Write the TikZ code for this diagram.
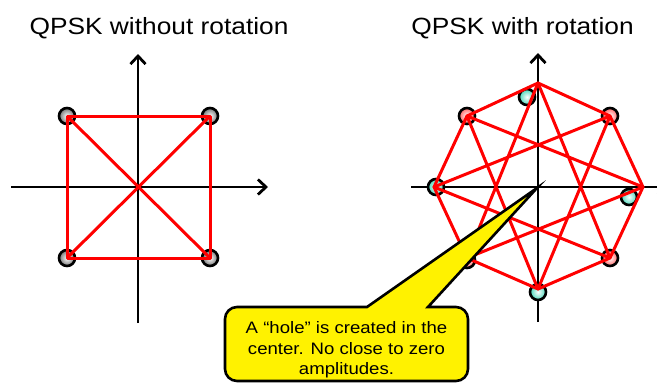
\documentclass[tikz,border=0pt]{standalone}
\usepackage{fontspec}
\setmainfont{Liberation Sans}[FakeStretch=1.12]
\usetikzlibrary{arrows.meta}

\definecolor{aqua}{RGB}{70,215,185}
\tikzset{
  axis/.style={line width=2.8pt, -{Straight Barb[length=8pt,width=15pt]}},
  sig/.style={draw=red, line width=3pt, line join=round},
  pt/.style={circle, draw=black, line width=2.6pt, minimum size=16pt, inner sep=0pt},
  grey pt/.style={pt, inner color=white, outer color=black!55},
  pink pt/.style={pt, inner color=white, outer color=red!60},
  cyan pt/.style={pt, inner color=white, outer color=aqua},
  callout/.style={fill=yellow, draw=black, line width=2.6pt, line join=miter},
}

\begin{document}
\begin{tikzpicture}[x=1pt,y=-1pt]
  \useasboundingbox (0,0) rectangle (657,383);

  % titles
  \node[anchor=base, font=\fontsize{23.5}{28}\selectfont] (ttlA) at (159,34) {QPSK without rotation};
  \node[anchor=base, font=\fontsize{23.5}{28}\selectfont] (ttlB) at (522.5,34) {QPSK with rotation};

  % axes, left
  \coordinate (lxs) at (11,187);   \coordinate (lxe) at (268,187);
  \coordinate (lys) at (138,323);  \coordinate (lye) at (138,54);
  \draw[axis] (lxs) -- (lxe);
  \draw[axis] (lys) -- (lye);
  % axes, right
  \coordinate (rxs) at (411,187);  \coordinate (rxe) at (668,187);
  \coordinate (rys) at (538,322);  \coordinate (rye) at (538,53);
  \draw[axis] (rxs) -- (rxe);
  \draw[axis] (rys) -- (rye);

  % QPSK points, left
  \node[grey pt] (qa) at (67,116) {};
  \node[grey pt] (qb) at (210,116) {};
  \node[grey pt] (qc) at (210,258) {};
  \node[grey pt] (qd) at (67,258) {};
  \draw[sig] (qa.center) -- (qb.center) -- (qc.center) -- (qd.center) -- cycle;
  \draw[sig] (qa.center) -- (qc.center);
  \draw[sig] (qb.center) -- (qd.center);

  % rotated points, right
  \node[pink pt] (pa) at (467,116) {};
  \node[pink pt] (pb) at (610,116) {};
  \node[pink pt] (pc) at (610,258) {};
  \node[pink pt] (pd) at (467,260) {};
  \node[cyan pt] (ra) at (527,97) {};
  \node[cyan pt] (rb) at (629,197) {};
  \node[cyan pt] (rc) at (538,292) {};
  \node[cyan pt] (rd) at (436,187) {};

  % octagon corners
  \coordinate (o0) at (538,83);
  \coordinate (o1) at (610,116);
  \coordinate (o2) at (643,187);
  \coordinate (o3) at (610,258);
  \coordinate (o4) at (538,289);
  \coordinate (o5) at (467,258);
  \coordinate (o6) at (434,187);
  \coordinate (o7) at (467,116);
  \draw[sig] (o0) -- (o1) -- (o2) -- (o3) -- (o4) -- (o5) -- (o6) -- (o7) -- cycle;
  \draw[sig] (o0) -- (o3) -- (o6) -- (o1) -- (o4) -- (o7) -- (o2) -- (o5) -- cycle;

  % callout
  \draw[callout] (300,307) -- (367,307) -- (537,188) -- (428,307) -- (450,307)
    [rounded corners=12pt] -- (468,307) -- (468,381) -- (225,381) -- (225,307) -- cycle;
  \node[align=center, font=\fontsize{16.6}{20.5}\selectfont] (note) at (346.5,350)
    {A “hole” is created in the\\center. No close to zero\\amplitudes.};
\end{tikzpicture}
\end{document}
